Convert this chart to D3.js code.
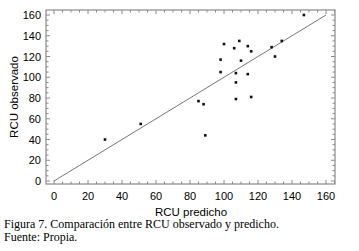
<!DOCTYPE html>
<html>
<head>
<meta charset="utf-8">
<script src="https://cdn.jsdelivr.net/npm/d3@7"></script>
<style>
	body { margin: 0; background: #fff; }
	svg { display: block; }
</style>
</head>
<body>
<svg id="chart"></svg>
<script>
// RCU predicho vs RCU observado
const predicho = [30, 51, 85, 88, 89, 98, 98, 100, 106, 107, 107, 107, 109, 110, 114, 114, 116, 116, 128, 130, 134, 147];
const observado = [40, 55, 77, 74, 44, 117, 105, 132, 128, 104, 95, 79, 135, 116, 130, 103, 125, 81, 129, 120, 135, 160];
const tickValues = [0, 20, 40, 60, 80, 100, 120, 140, 160];
const captionLines = ["Figura 7. Comparación entre RCU observado y predicho.", "Fuente: Propia."];

const width = 359, height = 251;
const box = { left: 46, right: 335, top: 10, bottom: 184 };

const svg = d3.select("#chart")
	.attr("width", width)
	.attr("height", height);

const x = d3.scaleLinear().domain([0, 160]).range([54, 326]);
const y = d3.scaleLinear().domain([0, 160]).range([181, 15]);

const frameColor = "#8a8a8a";
const minor = d3.range(-5, 166, 5).filter(v => x(v) > box.left && x(v) < box.right);
const minorY = d3.range(-5, 166, 5).filter(v => y(v) < box.bottom && y(v) > box.top);

// frame
svg.append("rect")
	.attr("x", box.left).attr("y", box.top)
	.attr("width", box.right - box.left).attr("height", box.bottom - box.top)
	.attr("fill", "none").attr("stroke", frameColor).attr("stroke-width", 1.2);

// ticks, pointing inward on all four sides
const ticks = svg.append("g").attr("stroke", frameColor).attr("stroke-width", 1);
minor.forEach(v => {
	const len = v % 20 === 0 ? 4 : 2.5;
	ticks.append("line").attr("x1", x(v)).attr("x2", x(v)).attr("y1", box.bottom).attr("y2", box.bottom - len);
	ticks.append("line").attr("x1", x(v)).attr("x2", x(v)).attr("y1", box.top).attr("y2", box.top + len);
});
minorY.forEach(v => {
	const len = v % 20 === 0 ? 4 : 2.5;
	ticks.append("line").attr("y1", y(v)).attr("y2", y(v)).attr("x1", box.left).attr("x2", box.left + len);
	ticks.append("line").attr("y1", y(v)).attr("y2", y(v)).attr("x1", box.right).attr("x2", box.right - len);
});

// tick labels
const labelFont = "'Liberation Sans', Arial, sans-serif";
svg.append("g").selectAll("text")
	.data(tickValues)
	.join("text")
	.attr("x", d => x(d))
	.attr("y", 200)
	.attr("text-anchor", "middle")
	.attr("font-family", labelFont)
	.attr("font-size", 11)
	.text(d => d);

svg.append("g").selectAll("text")
	.data(tickValues)
	.join("text")
	.attr("x", 41)
	.attr("y", d => y(d) + 4)
	.attr("text-anchor", "end")
	.attr("font-family", labelFont)
	.attr("font-size", 11)
	.text(d => d);

// axis titles
svg.append("text")
	.attr("x", 191).attr("y", 216)
	.attr("text-anchor", "middle")
	.attr("font-family", labelFont)
	.attr("font-size", 11.5)
	.text("RCU predicho");

svg.append("text")
	.attr("transform", "translate(18,97) rotate(-90)")
	.attr("text-anchor", "middle")
	.attr("font-family", labelFont)
	.attr("font-size", 11.5)
	.text("RCU observado");

// 1:1 line
svg.append("line")
	.attr("x1", x(0)).attr("y1", y(0))
	.attr("x2", x(160)).attr("y2", y(160))
	.attr("stroke", "#666").attr("stroke-width", 0.9);

// points
svg.append("g").selectAll("rect")
	.data(predicho.map((p, i) => [p, observado[i]]))
	.join("rect")
	.attr("x", d => x(d[0]) - 1.3)
	.attr("y", d => y(d[1]) - 1.3)
	.attr("width", 2.6).attr("height", 2.6)
	.attr("fill", "#111");

// caption
svg.append("g").selectAll("text")
	.data(captionLines)
	.join("text")
	.attr("x", 4)
	.attr("y", (d, i) => 228 + i * 13)
	.attr("font-family", "'Liberation Serif', 'Times New Roman', serif")
	.attr("font-size", 12)
	.text(d => d);
</script>
</body>
</html>
